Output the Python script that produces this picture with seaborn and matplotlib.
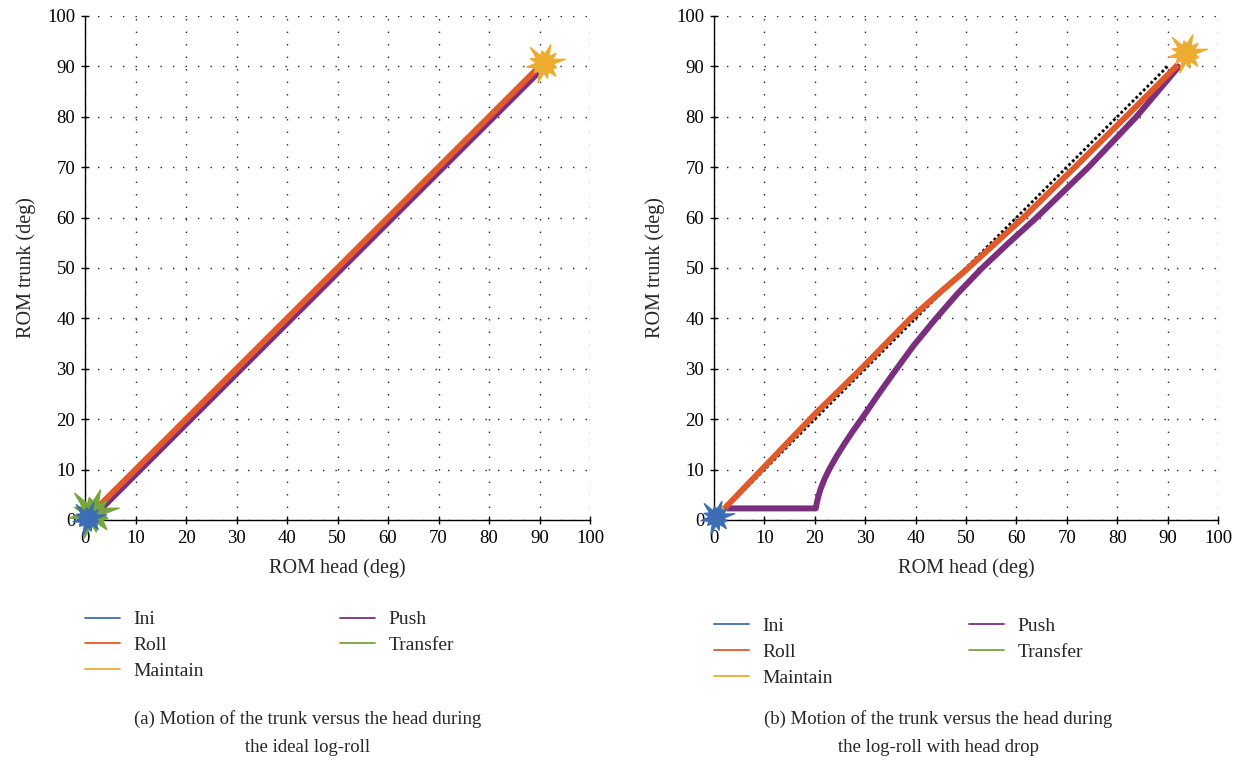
import numpy as np
import seaborn as sns
import matplotlib.pyplot as plt
from matplotlib.path import Path
from matplotlib.lines import Line2D

sns.set_style("white")
plt.rcParams['font.family'] = ['Liberation Serif', 'DejaVu Serif']

# Colours of the phases
phase_names = ["Ini", "Roll", "Maintain", "Push", "Transfer"]
phase_colors = ["#3d6db5", "#e05a2a", "#edab30", "#7b2d80", "#77a63b"]

# (a) ideal log-roll
a_roll_x = [2.5, 89.3]
a_roll_y = [2.5, 89.3]
a_push_x = [3.0, 89.8]
a_push_y = [2.0, 88.8]
a_ini = (0.5, 0.3)
a_transfer = (1.4, 1.3)
a_maintain = (90.8, 90.6)

# (b) log-roll with head drop
b_roll_x = [2.0, 20.0, 29.2, 39.0, 45.0, 50.0, 61.4, 71.6, 81.7, 92.0]
b_roll_y = [2.2, 21.0, 30.0, 40.0, 45.3, 49.6, 60.0, 70.0, 80.0, 90.3]
b_push_x = [2.5, 20.2, 20.4, 20.7, 21.2, 22.0, 23.0, 24.3, 25.8, 27.6, 29.8,
            32.6, 35.8, 39.6, 43.7, 48.3, 53.2, 58.5, 64.0, 74.3, 83.8, 92.5]
b_push_y = [2.3, 2.3, 3.4, 4.7, 6.3, 8.3, 10.3, 12.6, 15.0, 17.7, 20.8,
            24.9, 29.4, 34.6, 39.6, 44.9, 50.0, 55.0, 60.0, 70.0, 80.0, 90.3]
b_transfer_x = [0.4, 2.0]
b_transfer_y = [0.4, 2.1]
b_ideal_x = [0.0, 90.0]
b_ideal_y = [0.0, 90.0]
b_ini = (0.3, 0.5)
b_maintain = (93.6, 92.6)

ticks = list(range(0, 101, 10))

captions = ["(a) Motion of the trunk versus the head during\nthe ideal log-roll",
            "(b) Motion of the trunk versus the head during\nthe log-roll with head drop"]

# irregular spiky star used for the phase markers
spike_r = [1.0, 0.42, 0.72, 0.38, 0.92, 0.45, 0.6, 0.4, 1.0, 0.44, 0.7, 0.38,
           0.85, 0.45, 0.64, 0.4, 0.96, 0.43, 0.7, 0.4, 0.8, 0.45, 0.6, 0.4]
ang = np.linspace(0, 2 * np.pi, len(spike_r), endpoint=False) + 0.2
verts = np.column_stack([np.cos(ang) * spike_r, np.sin(ang) * spike_r])
verts = np.vstack([verts, verts[:1]])
spiky = Path(verts, closed=True)

fig = plt.figure(figsize=(12.45, 7.61), dpi=100)
ax1 = fig.add_axes([85 / 1245, 241 / 761, 505 / 1245, 504 / 761])
ax2 = fig.add_axes([714 / 1245, 241 / 761, 504 / 1245, 504 / 761])

lw = 4.3


def star(ax, pt, color, size):
    ax.plot([pt[0]], [pt[1]], marker=spiky, markersize=size, color=color,
            linestyle="none", clip_on=False, zorder=6)


def phase_line(ax, xs, ys, color, z):
    sns.lineplot(x=xs, y=ys, ax=ax, color=color, linewidth=lw, sort=False,
                 estimator=None, zorder=z, solid_joinstyle="round",
                 solid_capstyle="butt")


# panel (a)
phase_line(ax1, a_push_x, a_push_y, phase_colors[3], 3)
phase_line(ax1, a_roll_x, a_roll_y, phase_colors[1], 4)
star(ax1, a_transfer, phase_colors[4], 38)
star(ax1, a_ini, phase_colors[0], 26)
star(ax1, a_maintain, phase_colors[2], 30)

# panel (b)
sns.lineplot(x=b_ideal_x, y=b_ideal_y, ax=ax2, color="black", linewidth=2,
             linestyle=(0, (1, 0.9)), sort=False, estimator=None, zorder=2)
phase_line(ax2, b_push_x, b_push_y, phase_colors[3], 3)
phase_line(ax2, b_roll_x, b_roll_y, phase_colors[1], 4)
phase_line(ax2, b_transfer_x, b_transfer_y, phase_colors[4], 5)
star(ax2, b_ini, phase_colors[0], 26)
star(ax2, b_maintain, phase_colors[2], 30)

handles = [Line2D([0], [0], color=c, linewidth=1.3) for c in phase_colors]

for ax, cap, ly, cx in zip([ax1, ax2], captions, [-0.18, -0.193], [0.44, 0.445]):
    ax.set_xlim(0, 100)
    ax.set_ylim(0, 100)
    ax.set_xticks(ticks)
    ax.set_yticks(ticks)
    ax.grid(True, color="#222222", linestyle=(0, (1, 8)), linewidth=1)
    ax.set_axisbelow(True)
    for s in ["top", "right"]:
        ax.spines[s].set_visible(False)
    for s in ["left", "bottom"]:
        ax.spines[s].set_color("black")
        ax.spines[s].set_linewidth(1)
    ax.tick_params(direction="inout", length=6, width=1, labelsize=13.5, colors="black",
                   left=True, bottom=True, pad=4)
    ax.set_xlabel("ROM head (deg)", fontsize=14.5, labelpad=8)
    ax.set_ylabel("ROM trunk (deg)", fontsize=14.5, labelpad=8)
    ax.legend(handles, phase_names, ncol=2, loc="upper left", bbox_to_anchor=(0, ly),
              frameon=False, fontsize=14, handlelength=1.8, handletextpad=0.7,
              columnspacing=7.0, labelspacing=0.43, borderaxespad=0, borderpad=0)
    ax.text(cx, -0.377, cap, transform=ax.transAxes, ha="center", va="top",
            fontsize=13.5, linespacing=1.85)

fig.savefig("out.png", dpi=100)
